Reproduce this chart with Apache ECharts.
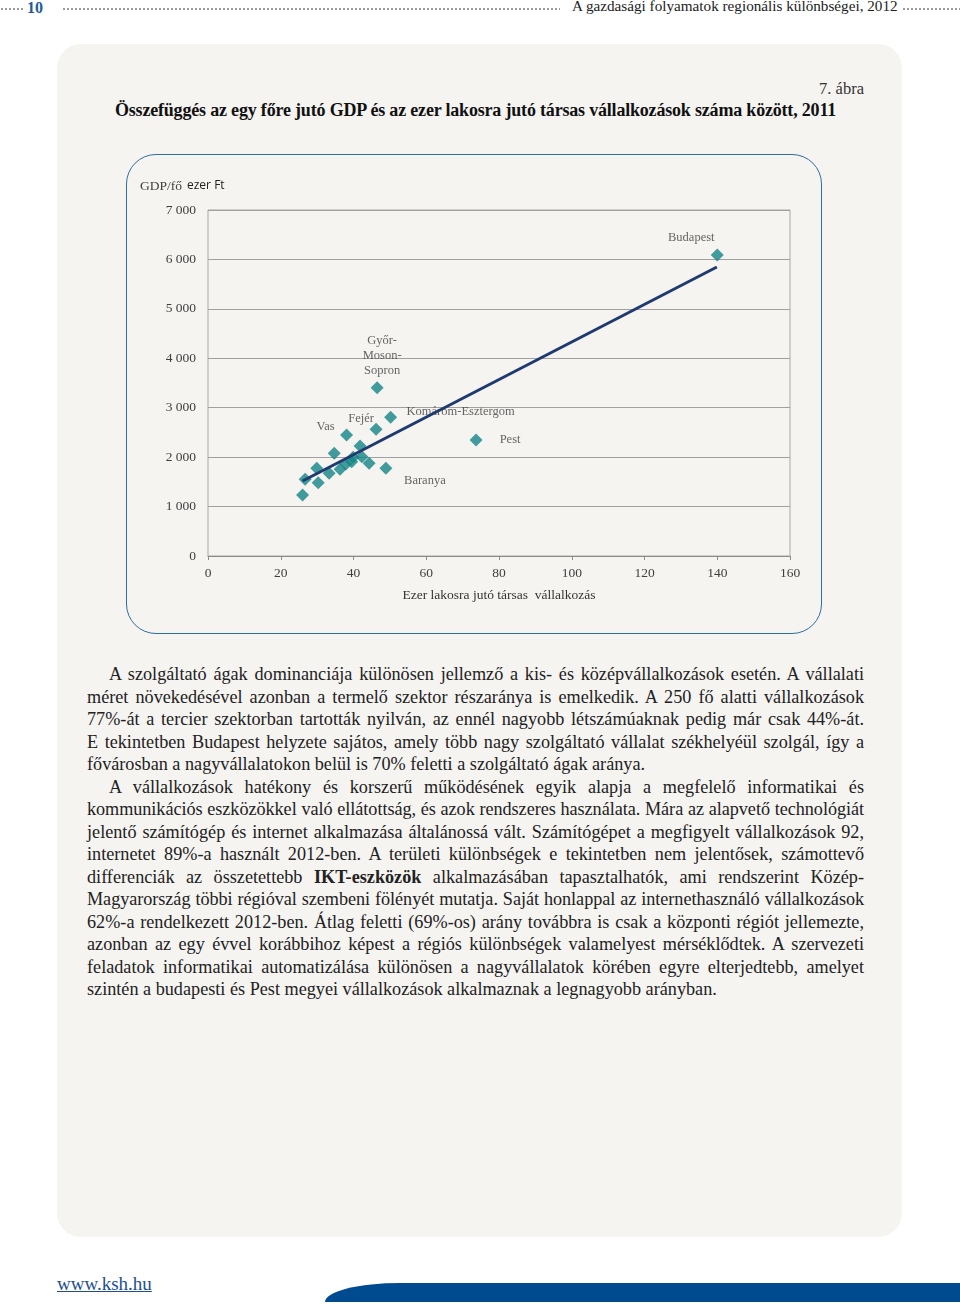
<!DOCTYPE html>
<html><head><meta charset="utf-8">
<script src="https://cdn.jsdelivr.net/npm/echarts@6/dist/echarts.min.js"></script>
<style>
body{margin:0;width:960px;height:1308px;background:#fff;position:relative;overflow:hidden;font-family:'Liberation Serif',serif;color:#222;}
.abs{position:absolute;}
.dots{position:absolute;top:7px;height:4px;background-image:radial-gradient(circle,#9a9a9a 0.9px,transparent 1.3px);background-size:4px 4px;}
.ln{text-align:justify;text-align-last:justify;height:22.5px;overflow:visible;white-space:normal;}
.ln.last{text-align-last:left;}
.ln.ind{text-indent:22px;}
</style></head>
<body>
<div class="dots" style="left:0;width:24px"></div>
<div class="abs" style="left:27px;top:0;font:bold 16px/16px 'Liberation Serif',serif;color:#1d5c9c">10</div>
<div class="dots" style="left:62px;width:498px"></div>
<div class="abs" style="left:572px;top:-2px;font:15.2px/15px 'Liberation Serif',serif;color:#222">A gazdasági folyamatok regionális különbségei, 2012</div>
<div class="dots" style="left:902px;width:58px"></div>

<div class="abs" style="left:57px;top:44px;width:845px;height:1193px;border-radius:24px;background:#f6f4f1"></div>
<div class="abs" style="right:96px;top:80px;font:16.5px/18px 'Liberation Serif',serif;color:#333">7. ábra</div>
<div class="abs" id="ttl" style="left:115px;top:100px;width:721px;font:bold 18px/20px 'Liberation Serif',serif;color:#111;text-align:justify;text-align-last:justify">Összefüggés az egy főre jutó GDP és az ezer lakosra jutó társas vállalkozások száma között, 2011</div>

<div class="abs" style="left:126px;top:154px;width:696px;height:480px;box-sizing:border-box;border:1.5px solid #2d6d9f;border-radius:30px;"></div>
<div class="abs" id="chart" style="left:126px;top:154px;width:696px;height:480px;"></div>

<div class="abs" id="body" style="left:87px;top:663px;width:777px;font-size:18.2px;line-height:22.5px;color:#222">
<div class="ln ind">A szolgáltató ágak dominanciája különösen jellemző a kis- és középvállalkozások esetén. A vállalati</div>
<div class="ln">méret növekedésével azonban a termelő szektor részaránya is emelkedik. A 250 fő alatti vállalkozások</div>
<div class="ln">77%-át a tercier szektorban tartották nyilván, az ennél nagyobb létszámúaknak pedig már csak 44%-át.</div>
<div class="ln">E tekintetben Budapest helyzete sajátos, amely több nagy szolgáltató vállalat székhelyéül szolgál, így a</div>
<div class="ln last">fővárosban a nagyvállalatokon belül is 70% feletti a szolgáltató ágak aránya.</div>
<div class="ln ind">A vállalkozások hatékony és korszerű működésének egyik alapja a megfelelő informatikai és</div>
<div class="ln">kommunikációs eszközökkel való ellátottság, és azok rendszeres használata. Mára az alapvető technológiát</div>
<div class="ln">jelentő számítógép és internet alkalmazása általánossá vált. Számítógépet a megfigyelt vállalkozások 92,</div>
<div class="ln">internetet 89%-a használt 2012-ben. A területi különbségek e tekintetben nem jelentősek, számottevő</div>
<div class="ln">differenciák az összetettebb <b>IKT-eszközök</b> alkalmazásában tapasztalhatók, ami rendszerint Közép-</div>
<div class="ln">Magyarország többi régióval szembeni fölényét mutatja. Saját honlappal az internethasználó vállalkozások</div>
<div class="ln">62%-a rendelkezett 2012-ben. Átlag feletti (69%-os) arány továbbra is csak a központi régiót jellemezte,</div>
<div class="ln">azonban az egy évvel korábbihoz képest a régiós különbségek valamelyest mérséklődtek. A szervezeti</div>
<div class="ln">feladatok informatikai automatizálása különösen a nagyvállalatok körében egyre elterjedtebb, amelyet</div>
<div class="ln last">szintén a budapesti és Pest megyei vállalkozások alkalmaznak a legnagyobb arányban.</div>
</div>

<div class="abs" style="left:57px;top:1274px;font:19px/20px 'Liberation Serif',serif;color:#1d4f91;text-decoration:underline">www.ksh.hu</div>
<div class="abs" style="left:325px;top:1283px;width:635px;height:19px;background:#004a8f;border-top-left-radius:75px 19px"></div>

<script>
// ---- data ----
const pointNames = ['Budapest','Pest','Győr-Moson-Sopron','Komárom-Esztergom','Fejér','Vas','Baranya',
  '','','','','','','','','','','','',''];
const firmsPer1000 = [140.0, 73.7, 46.5, 50.2, 46.2, 38.1, 48.9,
  34.7, 41.8, 29.9, 33.3, 36.3, 39.9, 42.3, 39.5, 44.3, 26.7, 30.3, 26.0, 37.9];
const gdpPerCapita = [6090, 2347, 3405, 2806, 2563, 2448, 1774,
  2078, 2225, 1774, 1673, 1754, 1997, 2009, 1908, 1875, 1552, 1483, 1234, 1861];
const labelTexts = {'Győr-Moson-Sopron':'Győr-\nMoson-\nSopron'};
const trendX = [26.0, 139.9];
const trendY = [1517, 5847];
const xTicks = [0, 160, 20];
const yTicks = [0, 7000, 1000];

// ---- styling ----
const labelOffsets = {
  'Budapest':[-26,-17], 'Pest':[34,0], 'Győr-Moson-Sopron':[5,-32],
  'Komárom-Esztergom':[70,-6], 'Fejér':[-15,-11], 'Vas':[-21,-8], 'Baranya':[39,12]
};
const serif = "'Liberation Serif', serif";
const fmt = v => String(v).replace(/\B(?=(\d{3})+(?!\d))/g, ' ');

const scatterData = firmsPer1000.map((x, i) => {
  const n = pointNames[i];
  const d = {name: n, value: [x, gdpPerCapita[i]]};
  if (n) d.label = {show: true, position: 'inside', offset: labelOffsets[n],
    formatter: labelTexts[n] || n};
  return d;
});

const chart = echarts.init(document.getElementById('chart'));
chart.setOption({
  animation: false,
  title: {
    left: 14, top: 23, padding: 0,
    text: '{a|GDP/fő} {b|ezer Ft}',
    textStyle: {fontWeight: 'normal', rich: {
      a: {fontFamily: serif, fontSize: 13.5, fontWeight: 'normal', color: '#404040'},
      b: {fontFamily: "'Open Sans', sans-serif", fontSize: 12, fontWeight: 'normal', color: '#222'}
    }}
  },
  grid: {left: 82, top: 56, right: 32, bottom: 78, show: true, borderColor: '#a8a8a8', borderWidth: 1},
  xAxis: {
    type: 'value', min: xTicks[0], max: xTicks[1], interval: xTicks[2],
    name: 'Ezer lakosra jutó társas  vállalkozás', nameLocation: 'middle', nameGap: 32,
    nameTextStyle: {fontFamily: serif, fontSize: 13.5, color: '#333'},
    axisLine: {lineStyle: {color: '#8c8c8c'}},
    axisTick: {show: true, length: 4, lineStyle: {color: '#8c8c8c'}},
    axisLabel: {fontFamily: serif, fontSize: 13.5, color: '#404040', margin: 10},
    splitLine: {show: false}
  },
  yAxis: {
    type: 'value', min: yTicks[0], max: yTicks[1], interval: yTicks[2],
    axisLine: {show: false},
    axisTick: {show: false},
    axisLabel: {fontFamily: serif, fontSize: 13.5, color: '#404040', margin: 12, formatter: fmt},
    splitLine: {lineStyle: {color: '#a0a0a0', width: 1}}
  },
  series: [
    {type: 'scatter', z: 2, symbol: 'diamond', symbolSize: 13,
      itemStyle: {color: '#148487'},
      label: {fontFamily: serif, fontSize: 12.5, color: '#404040', lineHeight: 15},
      data: scatterData},
    {type: 'line', z: 3, symbol: 'none', silent: true,
      lineStyle: {color: '#1f3a70', width: 3},
      data: trendX.map((x, i) => [x, trendY[i]])}
  ]
});

// shrink letter spacing of any text line that would wrap
function fit(el, maxH) {
  let ls = 0;
  while (el.offsetHeight > maxH && ls > -2) { ls -= 0.05; el.style.letterSpacing = ls + 'px'; }
}
document.querySelectorAll('.ln').forEach(el => { el.style.height = 'auto'; fit(el, 30); el.style.height = '22.5px'; });
fit(document.getElementById('ttl'), 26);
</script>
</body></html>
